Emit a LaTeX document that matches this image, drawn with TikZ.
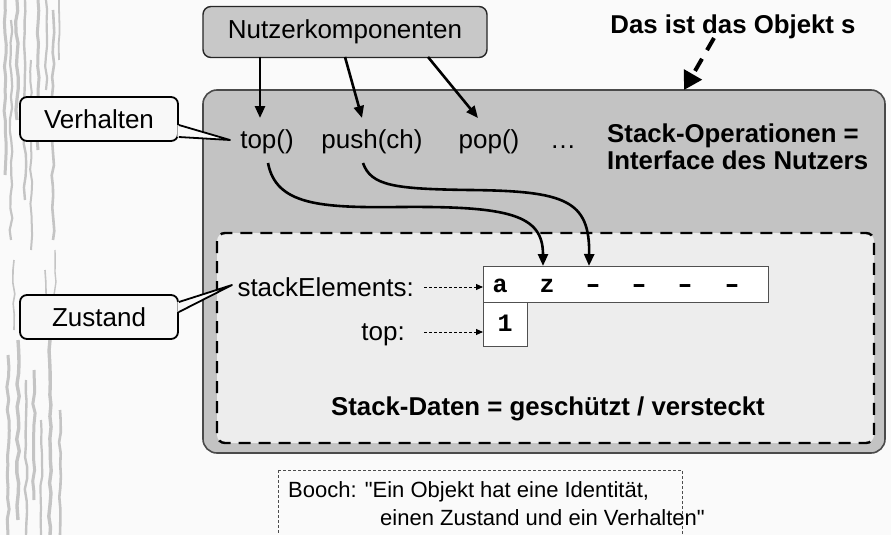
\documentclass[tikz,border=0pt]{standalone}
\usepackage{fontspec}
\usepackage{graphicx}
\setmainfont{Liberation Sans}
\setmonofont{Liberation Mono}
\usetikzlibrary{arrows.meta,decorations.pathmorphing,calc}

\definecolor{paper}{HTML}{FAFAFA}
\definecolor{objfill}{HTML}{C3C3C3}
\definecolor{objline}{HTML}{4A4A4A}
\definecolor{userfill}{HTML}{C8C8C8}
\definecolor{datafill}{HTML}{EDEDED}
\definecolor{notefill}{HTML}{F8F8F8}
\definecolor{bark}{HTML}{C4C4C4}
\definecolor{cellline}{HTML}{505050}

\newcommand{\emptyslot}{\scalebox{1.5}[1]{-}}

\begin{document}
\begin{tikzpicture}[x=1pt,y=-1pt,
  txt/.style={font=\fontsize{26}{31}\selectfont, inner sep=0pt},
  btxt/.style={font=\fontsize{25.8}{31}\selectfont\bfseries, inner sep=0pt},
  quote/.style={font=\fontsize{22}{27}\selectfont, inner sep=0pt},
  celltxt/.style={font=\fontsize{25}{28}\selectfont\ttfamily\bfseries, inner sep=0pt},
  notebox/.style={draw=black, line width=1.8pt, fill=notefill, rounded corners=7pt,
    minimum width=158pt, minimum height=44pt, inner sep=0pt, font=\fontsize{26}{31}\selectfont},
  call/.style={line width=2.6pt, -{Triangle[length=12pt,width=10pt]}},
  hint/.style={line width=0.9pt, dash pattern=on 3pt off 2pt, -{Triangle[length=7pt,width=6pt]}},
  cellbox/.style={draw=cellline, line width=1.2pt, fill=white, inner sep=0pt, anchor=north west}
]
\useasboundingbox (0,0) rectangle (891,535);
\fill[paper] (0,0) rectangle (891,535);

% bark-like streaks along the left margin
\pgfmathsetseed{7}
\foreach \x/\a/\b/\w in {5/0/175/3.0, 11/20/240/2.2, 17/0/120/3.2, 25/0/200/2.4,
    31/60/250/2.0, 38/0/150/3.0, 46/0/90/2.2, 53/10/240/2.6, 59/0/60/1.8,
    8/355/535/3.0, 18/340/520/3.4, 26/380/535/2.4, 34/370/500/3.0, 41/420/535/2.2,
    50/340/535/3.4, 60/410/535/2.6, 14/260/330/1.6, 45/270/330/1.6, 55/250/320/1.4}
  \draw[bark, line width=\w pt, decorate,
        decoration={random steps, segment length=11pt, amplitude=1.3pt}] (\x,\a) -- (\x,\b);

% the object and its protected data area
\draw[objline, line width=1.6pt, fill=objfill, rounded corners=14pt] (203,90) rectangle (885,453);
\draw[black, line width=2.4pt, dash pattern=on 12pt off 8pt, fill=datafill, rounded corners=8pt]
  (217,233) rectangle (874,443);

% user components
\node[draw=black!85, line width=1.4pt, fill=userfill, rounded corners=8pt,
      minimum width=284pt, minimum height=51pt, inner sep=0pt,
      font=\fontsize{26}{31}\selectfont] (user) at (345,32) {Nutzerkomponenten};

% object caption with dashed pointer
\node[btxt, anchor=base] (objcap) at (733,34) {Das ist das Objekt s};
\coordinate (capfoot) at (714,38);
\coordinate (objtop) at (684,90);
\draw[line width=4pt, dash pattern=on 14pt off 10pt, -{Triangle[length=18pt,width=20pt]}]
  (capfoot) -- (objtop);

% operations
\node[txt, anchor=base] (optop) at (267,148) {top()};
\node[txt, anchor=base] (oppush) at (372,148) {push(ch)};
\node[txt, anchor=base] (oppop) at (489,148) {pop()};
\node[txt, anchor=base] (opmore) at (563,148) {\dots};
\node[btxt, anchor=base west] (ops1) at (607,142) {Stack-Operationen =};
\node[btxt, anchor=base west] (ops2) at (607,169) {Interface des Nutzers};

% calls from the user components
\coordinate (u1) at (260,57);
\coordinate (u2) at (345,57);
\coordinate (u3) at (428,57);
\coordinate (t1) at (260,118);
\coordinate (t2) at (362,118);
\coordinate (t3) at (478,118);
\draw[call] (u1) -- (t1);
\draw[call] (u2) -- (t2);
\draw[call] (u3) -- (t3);

% data fields
\node[txt, anchor=base east] (lblelems) at (414,296) {stackElements:};
\node[txt, anchor=base east] (lbltop) at (405,340) {top:};
\node[cellbox, minimum width=285pt, minimum height=36pt] (arr) at (483,266) {};
\node[cellbox, minimum width=44pt, minimum height=44pt] (topcell) at (483,302) {};
\node[celltxt, anchor=base] (c1) at (500,292) {a};
\node[celltxt, anchor=base] (c2) at (547,292) {z};
\node[celltxt, anchor=base] (c3) at (593,292) {\emptyslot};
\node[celltxt, anchor=base] (c4) at (639,292) {\emptyslot};
\node[celltxt, anchor=base] (c5) at (685,292) {\emptyslot};
\node[celltxt, anchor=base] (c6) at (732,292) {\emptyslot};
\node[celltxt, anchor=base] (c7) at (505,331) {1};
\draw[hint] (lblelems.east |- 0,287) ++(10,0) coordinate (h1) -- (arr.west |- h1);
\draw[hint] (lbltop.east |- 0,332) ++(19,0) coordinate (h2) -- (topcell.west |- h2);

% operations working on the data
\coordinate (s1) at (268,163);
\coordinate (s2) at (363,163);
\coordinate (e1) at (543,266);
\coordinate (e2) at (589,266);
\draw[call] (s1) .. controls (276,205) and (320,208) .. (400,207)
               .. controls (510,206) and (543,215) .. (e1);
\draw[call] (s2) .. controls (371,186) and (395,189) .. (470,190)
               .. controls (565,191) and (590,200) .. (e2);

\node[btxt, anchor=base] (datacap) at (548,415) {Stack-Daten = geschützt / versteckt};

% callouts
\node[notebox] (verh) at (99,119) {Verhalten};
\coordinate (verhtip) at (230,140);
\fill[notefill] ($(verh.east)+(-1.5,6)$) -- (verhtip) -- ($(verh.east)+(-1.5,18)$) -- cycle;
\draw[line width=1.8pt, line join=round] ($(verh.east)+(0,6)$) -- (verhtip) -- ($(verh.east)+(0,18)$);

\node[notebox] (zust) at (99,317) {Zustand};
\coordinate (zusttip) at (232,285);
\fill[notefill] ($(zust.east)+(-1.5,-15)$) -- (zusttip) -- ($(zust.east)+(-1.5,-5)$) -- cycle;
\draw[line width=1.8pt, line join=round] ($(zust.east)+(0,-15)$) -- (zusttip) -- ($(zust.east)+(0,-5)$);

% quotation
\draw[black!70, line width=0.9pt, dash pattern=on 3pt off 2pt, fill=paper] (278,470) rectangle (682,540);
\node[quote, anchor=base west] (q1) at (288,497) {Booch: \textquotedbl Ein Objekt hat eine Identität,};
\node[quote, anchor=base west] (q2) at (380,525) {einen Zustand und ein Verhalten\textquotedbl};
\end{tikzpicture}
\end{document}
